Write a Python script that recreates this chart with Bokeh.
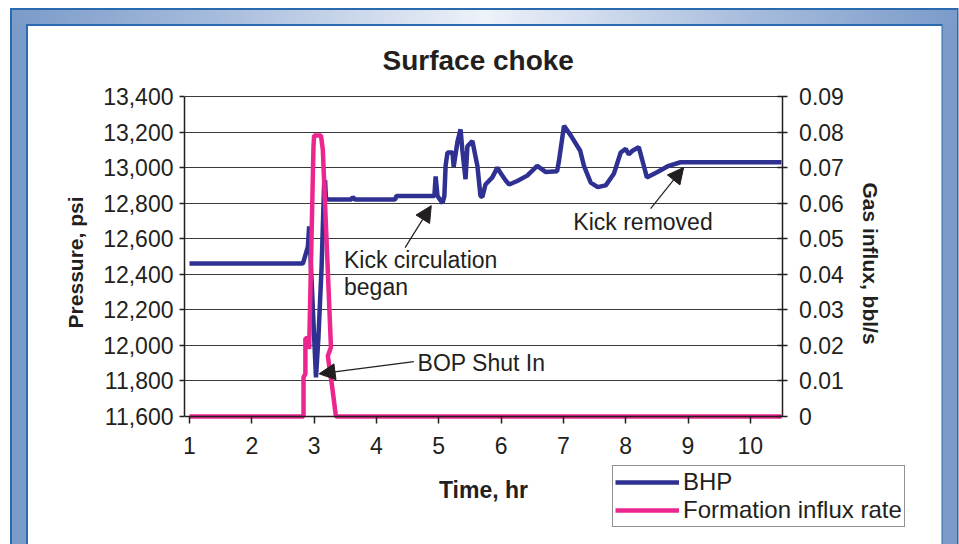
import math
from bokeh.plotting import figure
from bokeh.models import (Range1d, LinearAxis, FixedTicker, NumeralTickFormatter,
                          PrintfTickFormatter, Legend, LegendItem, Title,
                          Label, Arrow, NormalHead)
from bokeh.embed import file_html
from bokeh.resources import INLINE

# ---------------- data ----------------
bhp_time = [1.00, 2.82, 2.90, 2.92, 3.03, 3.07, 3.12, 3.16, 3.175, 3.19,
            3.22, 3.60, 3.62, 3.66, 4.30, 4.32, 4.93, 4.95, 4.98, 5.06,
            5.09, 5.11, 5.14, 5.22, 5.24, 5.30, 5.35, 5.38, 5.43, 5.46,
            5.54, 5.62, 5.67, 5.70, 5.75, 5.86, 5.94, 6.00, 6.08, 6.13,
            6.26, 6.42, 6.58, 6.72, 6.90, 6.93, 7.01, 7.12, 7.27, 7.33,
            7.44, 7.55, 7.68, 7.81, 7.92, 8.00, 8.05, 8.11, 8.21, 8.31,
            8.34, 8.51, 8.69, 8.88, 10.50]
bhp_psi = [12460, 12460, 12555, 12670, 11820, 12050, 12440, 12900, 12930, 12830,
           12820, 12820, 12835, 12820, 12820, 12840, 12840, 12950, 12840, 12800,
           12840, 13010, 13085, 13085, 13005, 13145, 13215, 13095, 12935, 13120,
           13150, 13010, 12840, 12835, 12905, 12945, 13000, 12965, 12925, 12905,
           12925, 12955, 13010, 12975, 12980, 13040, 13235, 13180, 13095, 13010,
           12915, 12890, 12900, 12965, 13085, 13105, 13075, 13095, 13115, 12985,
           12945, 12975, 13010, 13030, 13030]

influx_time = [1.00, 2.83, 2.83, 2.86, 2.86, 2.90, 2.92, 2.99, 3.00, 3.11,
               3.14, 3.27, 3.22, 3.30, 3.35, 10.50]
influx_bbl_s = [0, 0, 0.011, 0.012, 0.022, 0.022, 0.019, 0.076, 0.079, 0.079,
                0.075, 0.0195, 0.017, 0.007, 0, 0]

x_ticks = [1, 2, 3, 4, 5, 6, 7, 8, 9, 10]
psi_ticks = [11600, 11800, 12000, 12200, 12400, 12600, 12800, 13000, 13200, 13400]
influx_ticks = [0, 0.01, 0.02, 0.03, 0.04, 0.05, 0.06, 0.07, 0.08, 0.09]

FONT = "Liberation Sans"
BLUE = "#2E3192"
PINK = "#EC268F"
INK = "#231F20"

W, H = 959, 544
# plot geometry (pixels) -- the frame is extended around the axes so the
# legend and right-axis texts can sit inside it
FRAME_L, AXIS_R, FRAME_R = 184, 781.6, 912
FRAME_TOP, AXIS_TOP, AXIS_Y, FRAME_BOTTOM = 82, 96, 416, 536
X_LO, X_AX = 0.92, 10.51
PSI_MIN, PSI_MAX = 11600, 13400
INF_MIN, INF_MAX = 0.0, 0.09

x_hi = X_LO + (X_AX - X_LO) * (FRAME_R - FRAME_L) / (AXIS_R - FRAME_L)
span = AXIS_Y - AXIS_TOP
psi_lo = PSI_MIN - (PSI_MAX - PSI_MIN) * (FRAME_BOTTOM - AXIS_Y) / span
psi_hi = PSI_MAX + (PSI_MAX - PSI_MIN) * (AXIS_TOP - FRAME_TOP) / span
inf_lo = INF_MIN - (INF_MAX - INF_MIN) * (FRAME_BOTTOM - AXIS_Y) / span
inf_hi = INF_MAX + (INF_MAX - INF_MIN) * (AXIS_TOP - FRAME_TOP) / span
xs_per_px = (X_AX - X_LO) / (AXIS_R - FRAME_L)
psi_per_px = (PSI_MAX - PSI_MIN) / span

def px_to_x(px):
    return X_LO + (px - FRAME_L) * xs_per_px

def py_to_psi(py):
    return PSI_MIN + (AXIS_Y - py) * psi_per_px

# CSS decorative frame (blue panel border with gradient top band)
def layer(color, x, y, w, h):
    return "linear-gradient(%s,%s) %gpx %gpx / %gpx %gpx no-repeat" % (color, color, x, y, w, h)

band_grad = ("linear-gradient(to right, #7B9BC9 0%, #A7BCDC 22%, #EEF2F9 50%, "
             "#A7BCDC 78%, #7B9BC9 100%) 11.5px 9.5px / 945px 14.5px no-repeat")
bg = ", ".join([
    layer("white", 27.5, 25.5, 913.5, 540),
    layer("#2A6AAE", 26, 24, 916.5, 540),
    band_grad,
    layer("#7B9BC9", 11.5, 9.5, 945, 540),
    layer("#2A6AAE", 10, 8, 948.5, 540),
]) + ", white"

p = figure(width=W, height=H, output_backend="svg", toolbar_location=None,
           x_range=Range1d(X_LO, x_hi), y_range=Range1d(psi_lo, psi_hi),
           min_border_left=FRAME_L, min_border_right=W - FRAME_R,
           min_border_top=FRAME_TOP, min_border_bottom=H - FRAME_BOTTOM,
           background_fill_color="white", border_fill_color=None,
           outline_line_color=None)
p.styles = {"background": bg}

# ---------------- title ----------------
p.title.text = "Surface choke"
p.title.align = "left"
p.title.offset = 198
p.title.text_font = FONT
p.title.text_font_size = "28px"
p.title.text_font_style = "bold"
p.title.text_color = INK
p.title.standoff = 14

# ---------------- axes ----------------
p.xaxis.ticker = FixedTicker(ticks=x_ticks)
p.xaxis.axis_label = "Time, hr"
p.xaxis.fixed_location = PSI_MIN
p.xaxis.bounds = (X_LO, X_AX)
p.yaxis.ticker = FixedTicker(ticks=psi_ticks)
p.yaxis.formatter = NumeralTickFormatter(format="0,0")
p.yaxis.bounds = (PSI_MIN, PSI_MAX)

p.extra_y_ranges = {"influx": Range1d(inf_lo, inf_hi)}
ax_r = LinearAxis(y_range_name="influx", ticker=FixedTicker(ticks=influx_ticks),
                  formatter=PrintfTickFormatter(format="%.2f"),
                  major_label_overrides={0: "0"}, bounds=(INF_MIN, INF_MAX),
                  fixed_location=X_AX)
p.add_layout(ax_r, "right")

for ax in [p.xaxis[0], p.yaxis[0], ax_r]:
    ax.axis_line_color = INK
    ax.axis_line_width = 1.5
    ax.major_tick_line_color = INK
    ax.major_tick_line_width = 1.5
    ax.minor_tick_line_color = None
    ax.major_label_text_font = FONT
    ax.major_label_text_font_size = "23px"
    ax.major_label_text_color = INK
    ax.axis_label_text_font = FONT
    ax.axis_label_text_font_style = "bold"
    ax.axis_label_text_color = INK

p.xaxis.major_tick_in = 0
p.xaxis.major_tick_out = 7
p.xaxis.major_label_standoff = 13
p.xaxis.axis_label_text_font_size = "23px"
p.xaxis.axis_label_standoff = 20

p.yaxis.major_tick_in = 0
p.yaxis.major_tick_out = 5
p.yaxis.major_label_standoff = 6

ax_r.major_tick_in = 5
ax_r.major_tick_out = 5
ax_r.major_label_standoff = 12

# y-axis titles
p.add_layout(Title(text="Pressure, psi", align="right", offset=196 - FRAME_TOP,
                   standoff=27, text_font=FONT, text_font_size="21px",
                   text_font_style="bold", text_color=INK), "left")
p.add_layout(Label(x=px_to_x(870), y=py_to_psi(263), text="Gas influx, bbl/s",
                   angle=-math.pi / 2, text_align="center", text_baseline="middle",
                   text_font=FONT, text_font_size="21px", text_font_style="bold",
                   text_color=INK))

p.xgrid.grid_line_color = None
p.ygrid.ticker = FixedTicker(ticks=psi_ticks)
p.ygrid.cross_bounds = (X_LO, X_AX)
p.ygrid.grid_line_color = "#3A3A3A"
p.ygrid.grid_line_width = 1

# ---------------- data lines ----------------
r_bhp = p.line(bhp_time, bhp_psi, line_color=BLUE, line_width=4.5)
r_inf = p.line(influx_time, influx_bbl_s, line_color=PINK, line_width=4.5,
               y_range_name="influx")

# ---------------- annotations ----------------
def lab(x, y, txt):
    p.add_layout(Label(x=x, y=y, text=txt, text_font=FONT, text_font_size="23px",
                       text_color=INK, text_baseline="middle", text_align="left"))

lab(3.48, 12482, "Kick circulation")
lab(3.48, 12331, "began")
lab(7.16, 12696, "Kick removed")
lab(4.66, 11903, "BOP Shut In")

def arrow(xs, ys, xe, ye):
    p.add_layout(Arrow(x_start=xs, y_start=ys, x_end=xe, y_end=ye,
                       line_color=INK, line_width=1.2,
                       end=NormalHead(size=16, fill_color=INK,
                                      line_color=INK, line_width=1)))

arrow(4.46, 12550, 4.88, 12786)
arrow(8.40, 12769, 8.93, 13001)
arrow(4.60, 11909, 3.08, 11840)

# ---------------- legend ----------------
legend = Legend(items=[LegendItem(label="BHP", renderers=[r_bhp]),
                       LegendItem(label="Formation influx rate", renderers=[r_inf])],
                location=(612 - FRAME_L, FRAME_BOTTOM - 527), orientation="vertical",
                label_text_font=FONT, label_text_font_size="24px",
                label_text_color=INK,
                glyph_width=64, glyph_height=22, label_height=22,
                label_standoff=4, spacing=0, padding=2, margin=0,
                border_line_color=INK, border_line_width=1.5,
                background_fill_color="white", background_fill_alpha=1.0)
p.add_layout(legend, "center")

open("out.html", "w").write(file_html(p, INLINE))
